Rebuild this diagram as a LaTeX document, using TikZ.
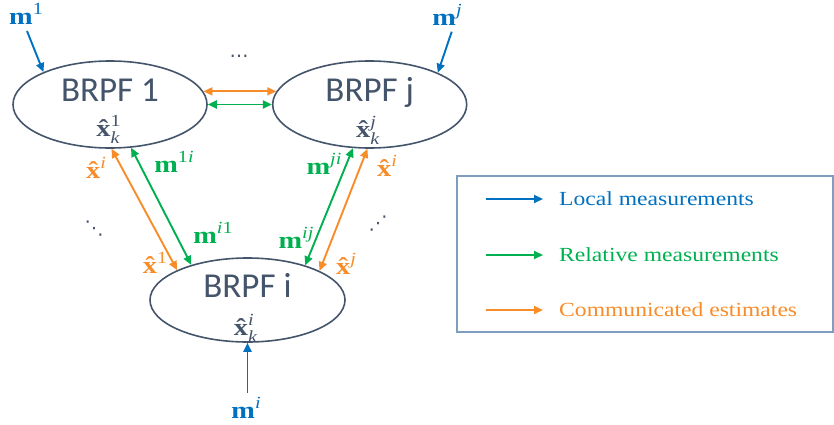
\documentclass[tikz,border=0pt]{standalone}
\usepackage{fontspec}
\setmainfont{Liberation Serif}
\newfontfamily\calib{Carlito}
\newfontfamily\legfont[FakeStretch=1.18]{Liberation Serif}
\newfontfamily\djv{DejaVu Sans}
\usetikzlibrary{shapes.geometric,arrows.meta}
\definecolor{cblue}{RGB}{0,112,192}
\definecolor{cgreen}{RGB}{0,176,80}
\definecolor{corange}{RGB}{247,140,40}
\definecolor{cdark}{RGB}{68,84,106}
\definecolor{cframe}{RGB}{127,157,190}
\newcommand\up[1]{\raisebox{0.40em}{\fontsize{17}{17}\selectfont\mdseries #1}}
\newcommand\dn[1]{\raisebox{-0.30em}{\fontsize{17}{17}\selectfont\mdseries #1}}
\newcommand\mm{\textbf{m}}
\newlength\xwd
\newcommand\xh{\settowidth\xwd{\textbf{x}}\textbf{\rlap{x}\makebox[\xwd][c]{ˆ}}}
\begin{document}
\begin{tikzpicture}[x=1pt,y=-1pt,
  ell/.style={ellipse,draw=cdark,line width=1.6pt,minimum width=194pt,minimum height=87pt,inner sep=0pt},
  ttl/.style={text=cdark,font=\calib\fontsize{35}{40}\selectfont,inner sep=0pt,anchor=base},
  est/.style={text=cdark,font=\legfont\fontsize{24}{26}\selectfont,inner sep=0pt,anchor=base},
  lab/.style={font=\legfont\fontsize{24}{26}\selectfont,inner sep=0pt},
  arr/.style={line width=1.9pt,-{Triangle[length=9pt,width=8pt]}},
  darr/.style={line width=1.9pt,{Triangle[length=9pt,width=8pt]}-{Triangle[length=9pt,width=8pt]}},
  leg/.style={font=\legfont\fontsize{20}{24}\selectfont,anchor=west,inner sep=0pt},
  dots/.style={text=cdark,font=\djv\fontsize{19}{19}\selectfont,inner sep=0pt},
]
\useasboundingbox (0,0) rectangle (834,425);

% ellipses
\node[ell] (b1) at (110,104.5) {};
\node[ell] (bj) at (369.7,104.5) {};
\node[ell,minimum width=195pt,minimum height=84pt] (bi) at (247.5,300) {};

\node[ttl] (t1) at (110,102) {BRPF 1};
\node[ttl] (tj) at (369.7,102) {BRPF j};
\node[ttl] (ti) at (247.5,297) {BRPF i};
\node[est] (e1) at (108,136) {\xh\rlap{\up{1}}\dn{\itshape k}};
\node[est] (ej) at (367.7,137) {\xh\rlap{\up{\itshape j}}\dn{\itshape k}};
\node[est] (ei) at (245.5,335) {\xh\rlap{\up{\itshape i}}\dn{\itshape k}};

% local measurements
\coordinate (m1s) at (27,31);
\coordinate (mjs) at (451.7,31.7);
\coordinate (mis) at (247.5,393);
\draw[arr,cblue] (m1s) -- (b1.154);
\draw[arr,cblue] (mjs) -- (bj.25);
\draw[arr,cblue] (mis) -- (bi.south);
\node[lab,text=cblue] (lm1) at (26,14) {\mm\up{1}};
\node[lab,text=cblue] (lmj) at (447,15) {\mm\up{\itshape j}};
\node[lab,text=cblue] (lmi) at (246,408) {\mm\up{\itshape i}};

% 1 <-> j
\draw[darr,corange] (b1.8) -- (bj.172.3);
\draw[darr,cgreen] (b1.east) -- (bj.west);
\node[dots] (dt) at (239,56) {…};

% 1 <-> i
\draw[darr,corange] (b1.-88) -- (bi.157);
\draw[darr,cgreen] (b1.-64.8) -- (bi.148.1);
\node[lab,text=corange] (lx1i) at (96,168) {\xh\up{\itshape i}};
\node[lab,text=cgreen] (lm1i) at (174,162) {\mm\up{1\itshape i}};
\node[lab,text=cgreen] (lmi1) at (213,233) {\mm\up{\itshape i\upshape 1}};
\node[lab,text=corange] (lxi1) at (155,263) {\xh\up{1}};
\node[dots] (dl) at (94,229) {⋱};

% j <-> i
\draw[darr,cgreen] (bj.-111.3) -- (bi.31.9);
\draw[darr,corange] (bj.-93.6) -- (bi.22.4);
\node[lab,text=cgreen] (lmji) at (324,164) {\mm\up{\itshape ji}};
\node[lab,text=corange] (lxji) at (387,166) {\xh\up{\itshape i}};
\node[lab,text=cgreen] (lmij) at (296,238) {\mm\up{\itshape ij}};
\node[lab,text=corange] (lxij) at (346,264) {\xh\up{\itshape j}};
\node[dots] (dr) at (378,224) {⋰};

% legend
\node[draw=cframe,line width=1.2pt,minimum width=376pt,minimum height=156pt,inner sep=0pt] (legend) at (645,254) {};
\coordinate (la1) at (486,199); \coordinate (lb1) at (543,199);
\coordinate (la2) at (486,255); \coordinate (lb2) at (543,255);
\coordinate (la3) at (486,310); \coordinate (lb3) at (543,310);
\draw[arr,cblue] (la1) -- (lb1);
\draw[arr,cgreen] (la2) -- (lb2);
\draw[arr,corange] (la3) -- (lb3);
\node[leg,text=cblue] (lt1) at (559,199) {Local measurements};
\node[leg,text=cgreen] (lt2) at (559,255) {Relative measurements};
\node[leg,text=corange] (lt3) at (559,310) {Communicated estimates};
\end{tikzpicture}
\end{document}
